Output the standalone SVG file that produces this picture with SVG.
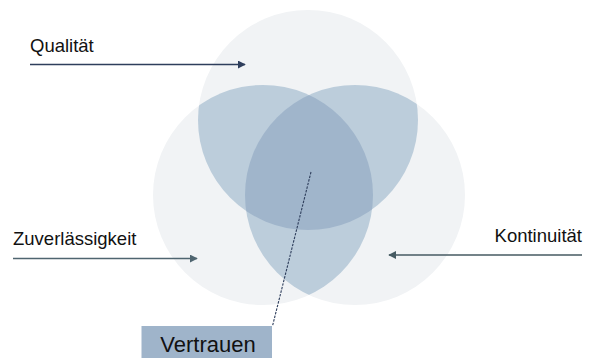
<svg xmlns="http://www.w3.org/2000/svg" width="598" height="358" viewBox="0 0 598 358">
<style>
.lbl{font-family:"Liberation Sans",Arial,sans-serif;font-size:18.5px;fill:#111}
.base{fill:#f1f3f5}
.pair{fill:#bccddb}
.tri{fill:#a0b5cb}
.arr{stroke-width:1.6;fill:none}
</style>
<defs>
<clipPath id="cT"><circle cx="308" cy="120" r="110"/></clipPath>
<clipPath id="cL"><circle cx="263" cy="195" r="110"/></clipPath>
<clipPath id="cR"><circle cx="355" cy="195" r="110"/></clipPath>
<marker id="mN" viewBox="0 0 10 10" refX="9" refY="5" markerWidth="5" markerHeight="5" orient="auto"><path d="M0,0 L10,5 L0,10 z" fill="#2e3e5c"/></marker>
<marker id="mG" viewBox="0 0 10 10" refX="9" refY="5" markerWidth="5" markerHeight="5" orient="auto"><path d="M0,0 L10,5 L0,10 z" fill="#4f6570"/></marker>
<marker id="mK" viewBox="0 0 10 10" refX="9" refY="5" markerWidth="5" markerHeight="5" orient="auto"><path d="M0,0 L10,5 L0,10 z" fill="#465a62"/></marker>
</defs>
<g id="venn">
<circle class="base" cx="308" cy="120" r="110"/>
<circle class="base" cx="263" cy="195" r="110"/>
<circle class="base" cx="355" cy="195" r="110"/>
<g clip-path="url(#cT)"><circle class="pair" cx="263" cy="195" r="110"/><circle class="pair" cx="355" cy="195" r="110"/></g>
<g clip-path="url(#cL)"><circle class="pair" cx="355" cy="195" r="110"/></g>
<g clip-path="url(#cT)"><g clip-path="url(#cL)"><circle class="tri" cx="355" cy="195" r="110"/></g></g>
</g>
<g id="connectors">
<line class="arr" x1="30" y1="64.5" x2="245" y2="64.5" stroke="#2e3e5c" marker-end="url(#mN)"/>
<line class="arr" x1="13" y1="258.5" x2="197" y2="258.5" stroke="#4f6570" marker-end="url(#mG)"/>
<line class="arr" x1="582" y1="255" x2="389" y2="255" stroke="#465a62" marker-end="url(#mK)"/>
<line x1="311" y1="172" x2="272.5" y2="326" stroke="#2e3e5c" stroke-width="1.1" stroke-dasharray="2.5,1.2"/>
</g>
<g id="qualitaet"><text class="lbl" x="30" y="52">Qualität</text></g>
<g id="zuverlaessigkeit"><text class="lbl" x="13" y="245">Zuverlässigkeit</text></g>
<g id="kontinuitaet"><text class="lbl" x="582" y="242" text-anchor="end">Kontinuität</text></g>
<g id="vertrauen">
<rect x="141.5" y="326" width="130.5" height="34" fill="#9fb4ca"/>
<text x="208" y="352" text-anchor="middle" style="font-family:'Liberation Sans',Arial,sans-serif;font-size:22px;fill:#111">Vertrauen</text>
</g>
</svg>
